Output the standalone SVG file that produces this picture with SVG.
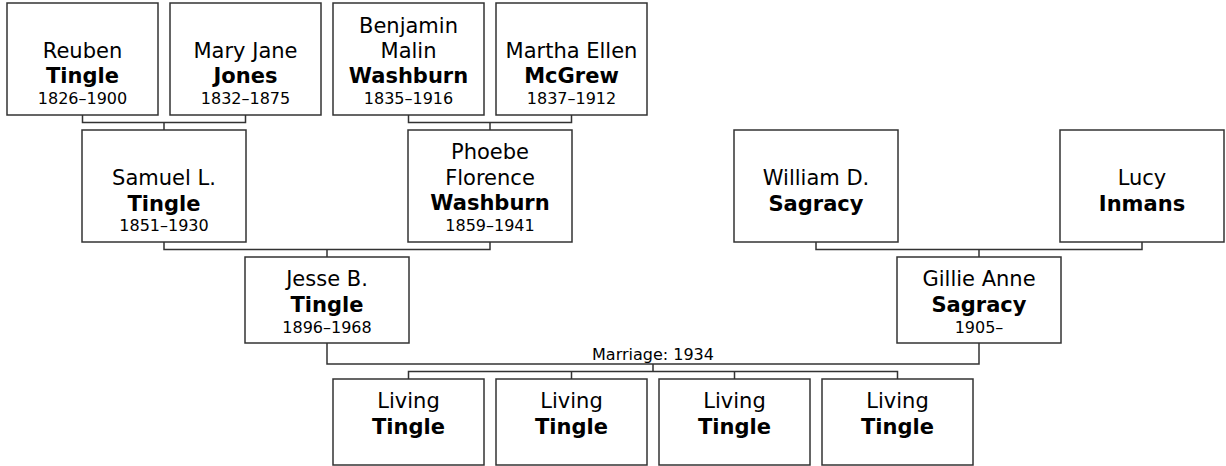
<svg xmlns="http://www.w3.org/2000/svg" width="1226" height="466" viewBox="0 0 1226 466">
<style>
.box{fill:#fff;stroke:#333;stroke-width:1.5}
.ln{fill:none;stroke:#333;stroke-width:1.5}
text{font-family:"DejaVu Sans","Liberation Sans",sans-serif;fill:#000;text-anchor:middle}
.n{font-size:21px}
.s{font-size:21px;font-weight:bold}
.d{font-size:16px}
.m{font-size:16px}
</style>
<rect width="1226" height="466" fill="#fff"/>
<g id="connectors">
<path class="ln" d="M82.5 115V122.5H245.5V115M164 122.5V130"/>
<path class="ln" d="M408.5 115V122.5H571.5V115M490 122.5V130"/>
<path class="ln" d="M164 242V249.5H490V242M327 249.5V257"/>
<path class="ln" d="M816 242V249.5H1142V242M979 249.5V257"/>
<path class="ln" d="M327 343V364H979V343M653 364V371.5"/>
<path class="ln" d="M408.5 379V371.5H897.5V379M571.5 371.5V379M734.5 371.5V379"/>
</g>
<text class="m" x="653" y="360">Marriage: 1934</text>
<g id="reuben"><rect class="box" x="7" y="3" width="151" height="112"/><text class="n" x="82.5" y="58">Reuben</text><text class="s" x="82.5" y="83">Tingle</text><text class="d" x="82.5" y="104">1826–1900</text></g>
<g id="maryjane"><rect class="box" x="170" y="3" width="151" height="112"/><text class="n" x="245.5" y="58">Mary Jane</text><text class="s" x="245.5" y="83">Jones</text><text class="d" x="245.5" y="104">1832–1875</text></g>
<g id="benjamin"><rect class="box" x="333" y="3" width="151" height="112"/><text class="n" x="408.5" y="32.5">Benjamin</text><text class="n" x="408.5" y="58">Malin</text><text class="s" x="408.5" y="83">Washburn</text><text class="d" x="408.5" y="104">1835–1916</text></g>
<g id="martha"><rect class="box" x="496" y="3" width="151" height="112"/><text class="n" x="571.5" y="58">Martha Ellen</text><text class="s" x="571.5" y="83">McGrew</text><text class="d" x="571.5" y="104">1837–1912</text></g>
<g id="samuel"><rect class="box" x="82" y="130" width="164" height="112"/><text class="n" x="164" y="185">Samuel L.</text><text class="s" x="164" y="210.5">Tingle</text><text class="d" x="164" y="231">1851–1930</text></g>
<g id="phoebe"><rect class="box" x="408" y="130" width="164" height="112"/><text class="n" x="490" y="158.5">Phoebe</text><text class="n" x="490" y="184.5">Florence</text><text class="s" x="490" y="210">Washburn</text><text class="d" x="490" y="231">1859–1941</text></g>
<g id="william"><rect class="box" x="734" y="130" width="164" height="112"/><text class="n" x="816" y="185">William D.</text><text class="s" x="816" y="210.5">Sagracy</text></g>
<g id="lucy"><rect class="box" x="1060" y="130" width="164" height="112"/><text class="n" x="1142" y="185">Lucy</text><text class="s" x="1142" y="210.5">Inmans</text></g>
<g id="jesse"><rect class="box" x="245" y="257" width="164" height="86"/><text class="n" x="327" y="285.5">Jesse B.</text><text class="s" x="327" y="311.5">Tingle</text><text class="d" x="327" y="332.5">1896–1968</text></g>
<g id="gillie"><rect class="box" x="897" y="257" width="164" height="86"/><text class="n" x="979" y="285.5">Gillie Anne</text><text class="s" x="979" y="311.5">Sagracy</text><text class="d" x="979" y="332.5">1905–</text></g>
<g id="child1"><rect class="box" x="333" y="379" width="151" height="86"/><text class="n" x="408.5" y="408">Living</text><text class="s" x="408.5" y="434">Tingle</text></g>
<g id="child2"><rect class="box" x="496" y="379" width="151" height="86"/><text class="n" x="571.5" y="408">Living</text><text class="s" x="571.5" y="434">Tingle</text></g>
<g id="child3"><rect class="box" x="659" y="379" width="151" height="86"/><text class="n" x="734.5" y="408">Living</text><text class="s" x="734.5" y="434">Tingle</text></g>
<g id="child4"><rect class="box" x="822" y="379" width="151" height="86"/><text class="n" x="897.5" y="408">Living</text><text class="s" x="897.5" y="434">Tingle</text></g>
</svg>
